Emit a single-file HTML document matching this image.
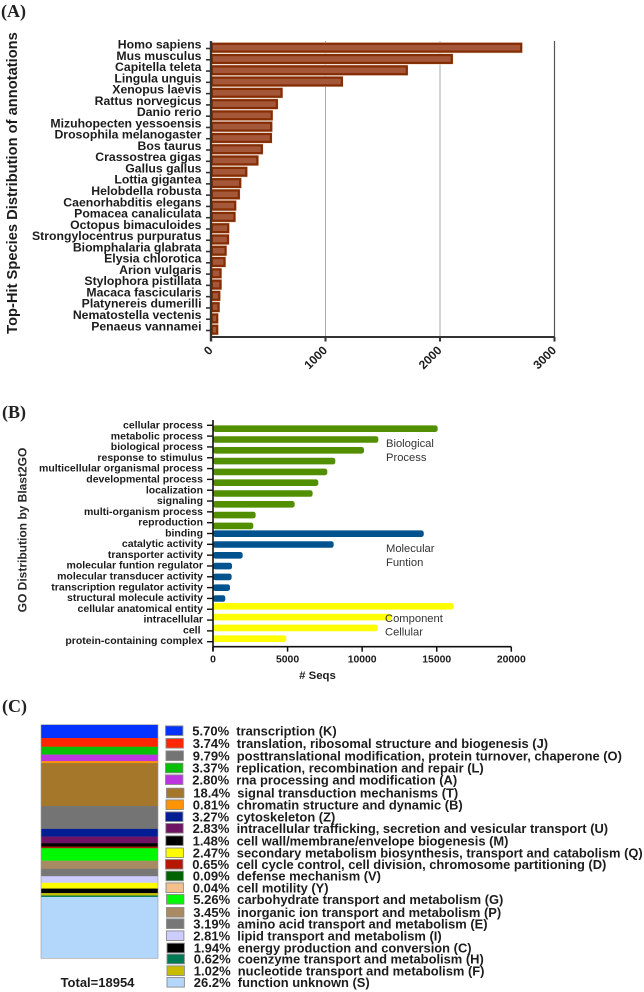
<!DOCTYPE html>
<html lang="en">
<head>
<meta charset="utf-8">
<title>Annotation figure</title>
<style>
html,body{margin:0;padding:0;background:#fff;}
svg{display:block;font-family:"Liberation Sans",Arial,sans-serif;}
.lab{font-weight:bold;fill:#1c1c1c;}
.sec{font-family:"Liberation Serif",serif;font-weight:bold;font-size:18px;fill:#222;}
</style>
</head>
<body>
<svg id="fig" xmlns="http://www.w3.org/2000/svg" width="644" height="992" viewBox="0 0 644 992">
<rect x="0" y="0" width="644" height="992" fill="#fff"/>
<text class="sec" x="1" y="17">(A)</text>
<text class="sec" x="2" y="418">(B)</text>
<text class="sec" x="2" y="712">(C)</text>
<g id="panelA"></g>
<g id="panelB"></g>
<g id="panelC"></g>
</svg>
<script>
const speciesNames = ["Homo sapiens","Mus musculus","Capitella teleta","Lingula unguis","Xenopus laevis","Rattus norvegicus","Danio rerio","Mizuhopecten yessoensis","Drosophila melanogaster","Bos taurus","Crassostrea gigas","Gallus gallus","Lottia gigantea","Helobdella robusta","Caenorhabditis elegans","Pomacea canaliculata","Octopus bimaculoides","Strongylocentrus purpuratus","Biomphalaria glabrata","Elysia chlorotica","Arion vulgaris","Stylophora pistillata","Macaca fascicularis","Platynereis dumerilli","Nematostella vectenis","Penaeus vannamei"];
const speciesCounts = [2716,2110,1717,1150,623,582,537,533,530,451,412,315,262,250,218,212,157,155,134,125,90,90,79,73,61,61];
const speciesTicks = [0,1000,2000,3000];

const goTerms = ["cellular process","metabolic process","biological process","response to stimulus","multicellular organismal process","developmental process","localization","signaling","multi-organism process","reproduction","binding","catalytic activity","transporter activity","molecular funtion regulator","molecular transducer activity","transcription regulator activity","structural molecule activity","cellular anatomical entity","intracellular","cell","protein-containing complex"];
const goSeqs = [15064,11085,10125,8200,7665,7060,6680,5475,2860,2700,14130,8090,1990,1275,1250,1140,825,16140,11980,11040,4915];
const goGroups = ["bio","bio","bio","bio","bio","bio","bio","bio","bio","bio","mol","mol","mol","mol","mol","mol","mol","cel","cel","cel","cel"];
const goTicks = [0,5000,10000,15000,20000];

const cogCodes = ["K","J","O","L","A","T","B","Z","U","M","Q","D","V","Y","G","P","E","I","C","H","F","S"];
const cogPercents = [5.70,3.74,9.79,3.37,2.80,18.4,0.81,3.27,2.83,1.48,2.47,0.65,0.09,0.04,5.26,3.45,3.19,2.81,1.94,0.62,1.02,26.2];
const cogPrinted = ["5.70%","3.74%","9.79%","3.37%","2.80%","18.4%","0.81%","3.27%","2.83%","1.48%","2.47%","0.65%","0.09%","0.04%","5.26%","3.45%","3.19%","2.81%","1.94%","0.62%","1.02%","26.2%"];
const cogNames = ["transcription (K)","translation, ribosomal structure and biogenesis (J)","posttranslational modification, protein turnover, chaperone (O)","replication, recombination and repair (L)","rna processing and modification (A)","signal transduction mechanisms (T)","chromatin structure and dynamic (B)","cytoskeleton (Z)","intracellular trafficking, secretion and vesicular transport (U)","cell wall/membrane/envelope biogenesis (M)","secondary metabolism biosynthesis, transport and catabolism (Q)","cell cycle control, cell division, chromosome partitioning (D)","defense mechanism (V)","cell motility (Y)","carbohydrate transport and metabolism (G)","inorganic ion transport and metabolism (P)","amino acid transport and metabolism (E)","lipid transport and metabolism (I)","energy production and conversion (C)","coenzyme transport and metabolism (H)","nucleotide transport and metabolism (F)","function unknown (S)"];
const stackOrder = ["K","J","L","A","B","T","O","Z","U","M","D","V","Y","G","P","E","I","Q","C","F","H","S"];

/* styling / layout, not data */
const cogColors = {K:"#0433ff",J:"#ff2600",O:"#747474",L:"#08bf08",A:"#bd35de",T:"#a5772a",B:"#ff9300",Z:"#011f92",U:"#6f1464",M:"#000000",Q:"#fffb00",D:"#b51700",V:"#006400",Y:"#f5c08c",G:"#00f900",P:"#a88b63",E:"#777777",I:"#ccccff",C:"#000000",H:"#007a55",F:"#c8bc00",S:"#b3d6fb"};
const goColors = {bio:"#528f00",mol:"#00538f",cel:"#ffff00"};
const legendRowY = [730.7,743.3,755.7,768,779.7,793,804.7,816.7,828.3,840.7,852.8,864.3,876,887.7,899.3,912.3,923.7,935.7,948,959,970.7,982.3];
const legendRowShift = [0,0.5,0.5,0,0,1,0.5,0,0.3,0.3,0.5,0,0.5,0.5,1,1,1,1,1.5,1.5,1.5,1.5];

const NS = "http://www.w3.org/2000/svg";
function mk(parent, tag, attrs, text) {
  const el = document.createElementNS(NS, tag);
  for (const k in attrs) el.setAttribute(k, attrs[k]);
  if (text !== undefined) el.textContent = text;
  parent.appendChild(el);
  return el;
}
function slug(s) { return s.toLowerCase().replace(/[^a-z0-9]+/g, '-').replace(/^-|-$/g, ''); }

/* ---------- Panel A ---------- */
(function () {
  const g = document.getElementById('panelA');
  const x0 = 211, x1 = 554.5, maxV = 3000, axisY = 337, topY = 41;
  const xA = v => x0 + (v / maxV) * (x1 - x0);
  const stepY = 11.28;
  const yA = i => 47.7 + i * stepY;
  const yLabel = i => 44.3 + i * 11.27;

  speciesTicks.forEach(t => {
    if (t === 0) return;
    const line = mk(g, 'line', {x1: xA(t), x2: xA(t), y1: topY, y2: axisY, stroke: t === maxV ? '#555' : '#a8a8a8', 'stroke-width': t === maxV ? 1.2 : 1});
    
    
  });

  speciesNames.forEach((n, i) => {
    const w = xA(speciesCounts[i]) - x0;
    const halo = mk(g, 'rect', {x: x0, y: yA(i) - 5.5, width: w + 0.6, height: 11, fill: '#ecd2c4'});
    
    
    const bar = mk(g, 'rect', {x: x0 + 0.8, y: yA(i) - 3.9, width: Math.max(w - 1.6, 0.5), height: 7.8, fill: '#a5573a', stroke: '#842c02', 'stroke-width': 2.2});
    
    
    const tick = mk(g, 'line', {x1: 206, x2: x0, y1: yA(i) + 0.8, y2: yA(i) + 0.8, stroke: '#333', 'stroke-width': 1.6});
    
    
    const lab = mk(g, 'text', {class: 'lab', x: 201.5, y: yLabel(i) + 4.2, 'text-anchor': 'end', 'font-size': 12.25}, n);
    
    
  });

  const yAxis = mk(g, 'line', {x1: x0, x2: x0, y1: topY, y2: axisY + 4.5, stroke: '#333', 'stroke-width': 2.4});
  
  
  const xAxis = mk(g, 'line', {x1: x0, x2: x1, y1: axisY, y2: axisY, stroke: '#333', 'stroke-width': 2});
  
  

  speciesTicks.forEach(t => {
    const tk = mk(g, 'line', {x1: xA(t), x2: xA(t), y1: axisY, y2: axisY + 4.5, stroke: '#333', 'stroke-width': 2});
    
    
    const px = xA(t) + 2.5, py = axisY + 14;
    const lb = mk(g, 'text', {class: 'lab', x: px, y: py, 'text-anchor': 'end', 'font-size': 12, transform: 'rotate(-45 ' + px + ' ' + py + ')'}, String(t));
    
    
  });

  const title = mk(g, 'text', {class: 'lab', x: 0, y: 0, 'text-anchor': 'middle', 'font-size': 14.7, transform: 'translate(17 183) rotate(-90)'}, 'Top-Hit Species Distribution of annotations');
  
  
})();

/* ---------- Panel B ---------- */
(function () {
  const g = document.getElementById('panelB');
  const x0 = 213, x1 = 511.3, maxV = 20000, axisY = 646.7, topY = 420;
  const xB = v => x0 + (v / maxV) * (x1 - x0);
  const groupIndex = i => goGroups.slice(0, i + 1).filter((c, k, a) => k > 0 && a[k - 1] !== c).length;
  const yB = i => 428.7 + i * 10.8 - 3 * groupIndex(i);
  const yLabel = i => 425 + i * 10.78;
  const yTick = i => 425.3 + i * 10.82;

  goTerms.forEach((n, i) => {
    const w = xB(goSeqs[i]) - x0;
    const bar = mk(g, 'rect', {x: x0, y: yB(i) - 3.3, width: w, height: 6.6, rx: 2.4, ry: 2.4, fill: goColors[goGroups[i]]});
    
    
    const tick = mk(g, 'line', {x1: 207, x2: x0, y1: yTick(i), y2: yTick(i), stroke: '#111', 'stroke-width': 1.4});
    
    
    const lab = mk(g, 'text', {class: 'lab', x: n === 'cell' ? 200.5 : 203, y: yLabel(i) + 3.6, 'text-anchor': 'end', 'font-size': 10.5}, n);
    
    
  });

  const yAxis = mk(g, 'line', {x1: x0, x2: x0, y1: topY, y2: axisY + 4, stroke: '#111', 'stroke-width': 1.6});
  
  
  const xAxis = mk(g, 'line', {x1: x0, x2: x1, y1: axisY, y2: axisY, stroke: '#111', 'stroke-width': 1.6});
  
  
  goTicks.forEach(t => {
    const tk = mk(g, 'line', {x1: xB(t), x2: xB(t), y1: axisY, y2: axisY + 5, stroke: '#111', 'stroke-width': 1.5});
    
    
    const lb = mk(g, 'text', {class: 'lab', x: xB(t), y: 662.5, 'text-anchor': 'middle', 'font-size': 10.4}, String(t));
    
    
  });

  const xt = mk(g, 'text', {class: 'lab', x: 317.5, y: 679, 'text-anchor': 'middle', 'font-size': 11.4}, '# Seqs');
  
  
  const yt = mk(g, 'text', {x: 0, y: 0, 'text-anchor': 'middle', 'font-size': 12, 'font-weight': 'bold', fill: '#2a2a2a', transform: 'translate(26.5 530) rotate(-90)'}, 'GO Distribution by Blast2GO');
  
  

  const notes = [["Biological",386,447,"annotation-biological"],["Process",386,461,"annotation-process"],["Molecular",386,552,"annotation-molecular"],["Funtion",386,566,"annotation-funtion"],["Component",385,622,"annotation-component"],["Cellular",385,635.5,"annotation-cellular"]];
  notes.forEach(a => {
    const t = mk(g, 'text', {x: a[1], y: a[2], 'font-size': 11.2, fill: '#333'}, a[0]);
    
    
  });
})();

/* ---------- Panel C ---------- */
(function () {
  const g = document.getElementById('panelC');
  const bx = 41, bw = 117, by = 724.7, bh = 233.6;
  const yC = p => (p / 100) * bh;
  let acc = 0;
  stackOrder.forEach(code => {
    const idx = cogCodes.indexOf(code);
    const h = yC(cogPercents[idx]);
    const seg = mk(g, 'rect', {x: bx, y: by + acc, width: bw, height: h + 0.2, fill: cogColors[code]});
    
    
    acc += h;
  });
  const frame = mk(g, 'rect', {x: bx, y: by, width: bw, height: bh, fill: 'none', stroke: '#999', 'stroke-width': 0.6});
  
  

  cogCodes.forEach((code, i) => {
    const cy = legendRowY[i], sh = legendRowShift[i];
    const sw = mk(g, 'rect', {x: 165.5 + sh, y: cy - 4.8, width: 17.4, height: 9.6, fill: cogColors[code], stroke: '#8a8a8a', 'stroke-width': 0.9});
    
    
    const pct = mk(g, 'text', {class: 'lab', x: 192.3 + sh, y: cy + 4.6, 'font-size': 13}, cogPrinted[i]);
    
    
    const nm = mk(g, 'text', {class: 'lab', x: 236.3 + sh, y: cy + 4.6, 'font-size': 12.92}, cogNames[i]);
    
    
  });

  const total = mk(g, 'text', {class: 'lab', x: 97.5, y: 987, 'text-anchor': 'middle', 'font-size': 13}, 'Total=18954');
  
  
})();
</script>
</body>
</html>
